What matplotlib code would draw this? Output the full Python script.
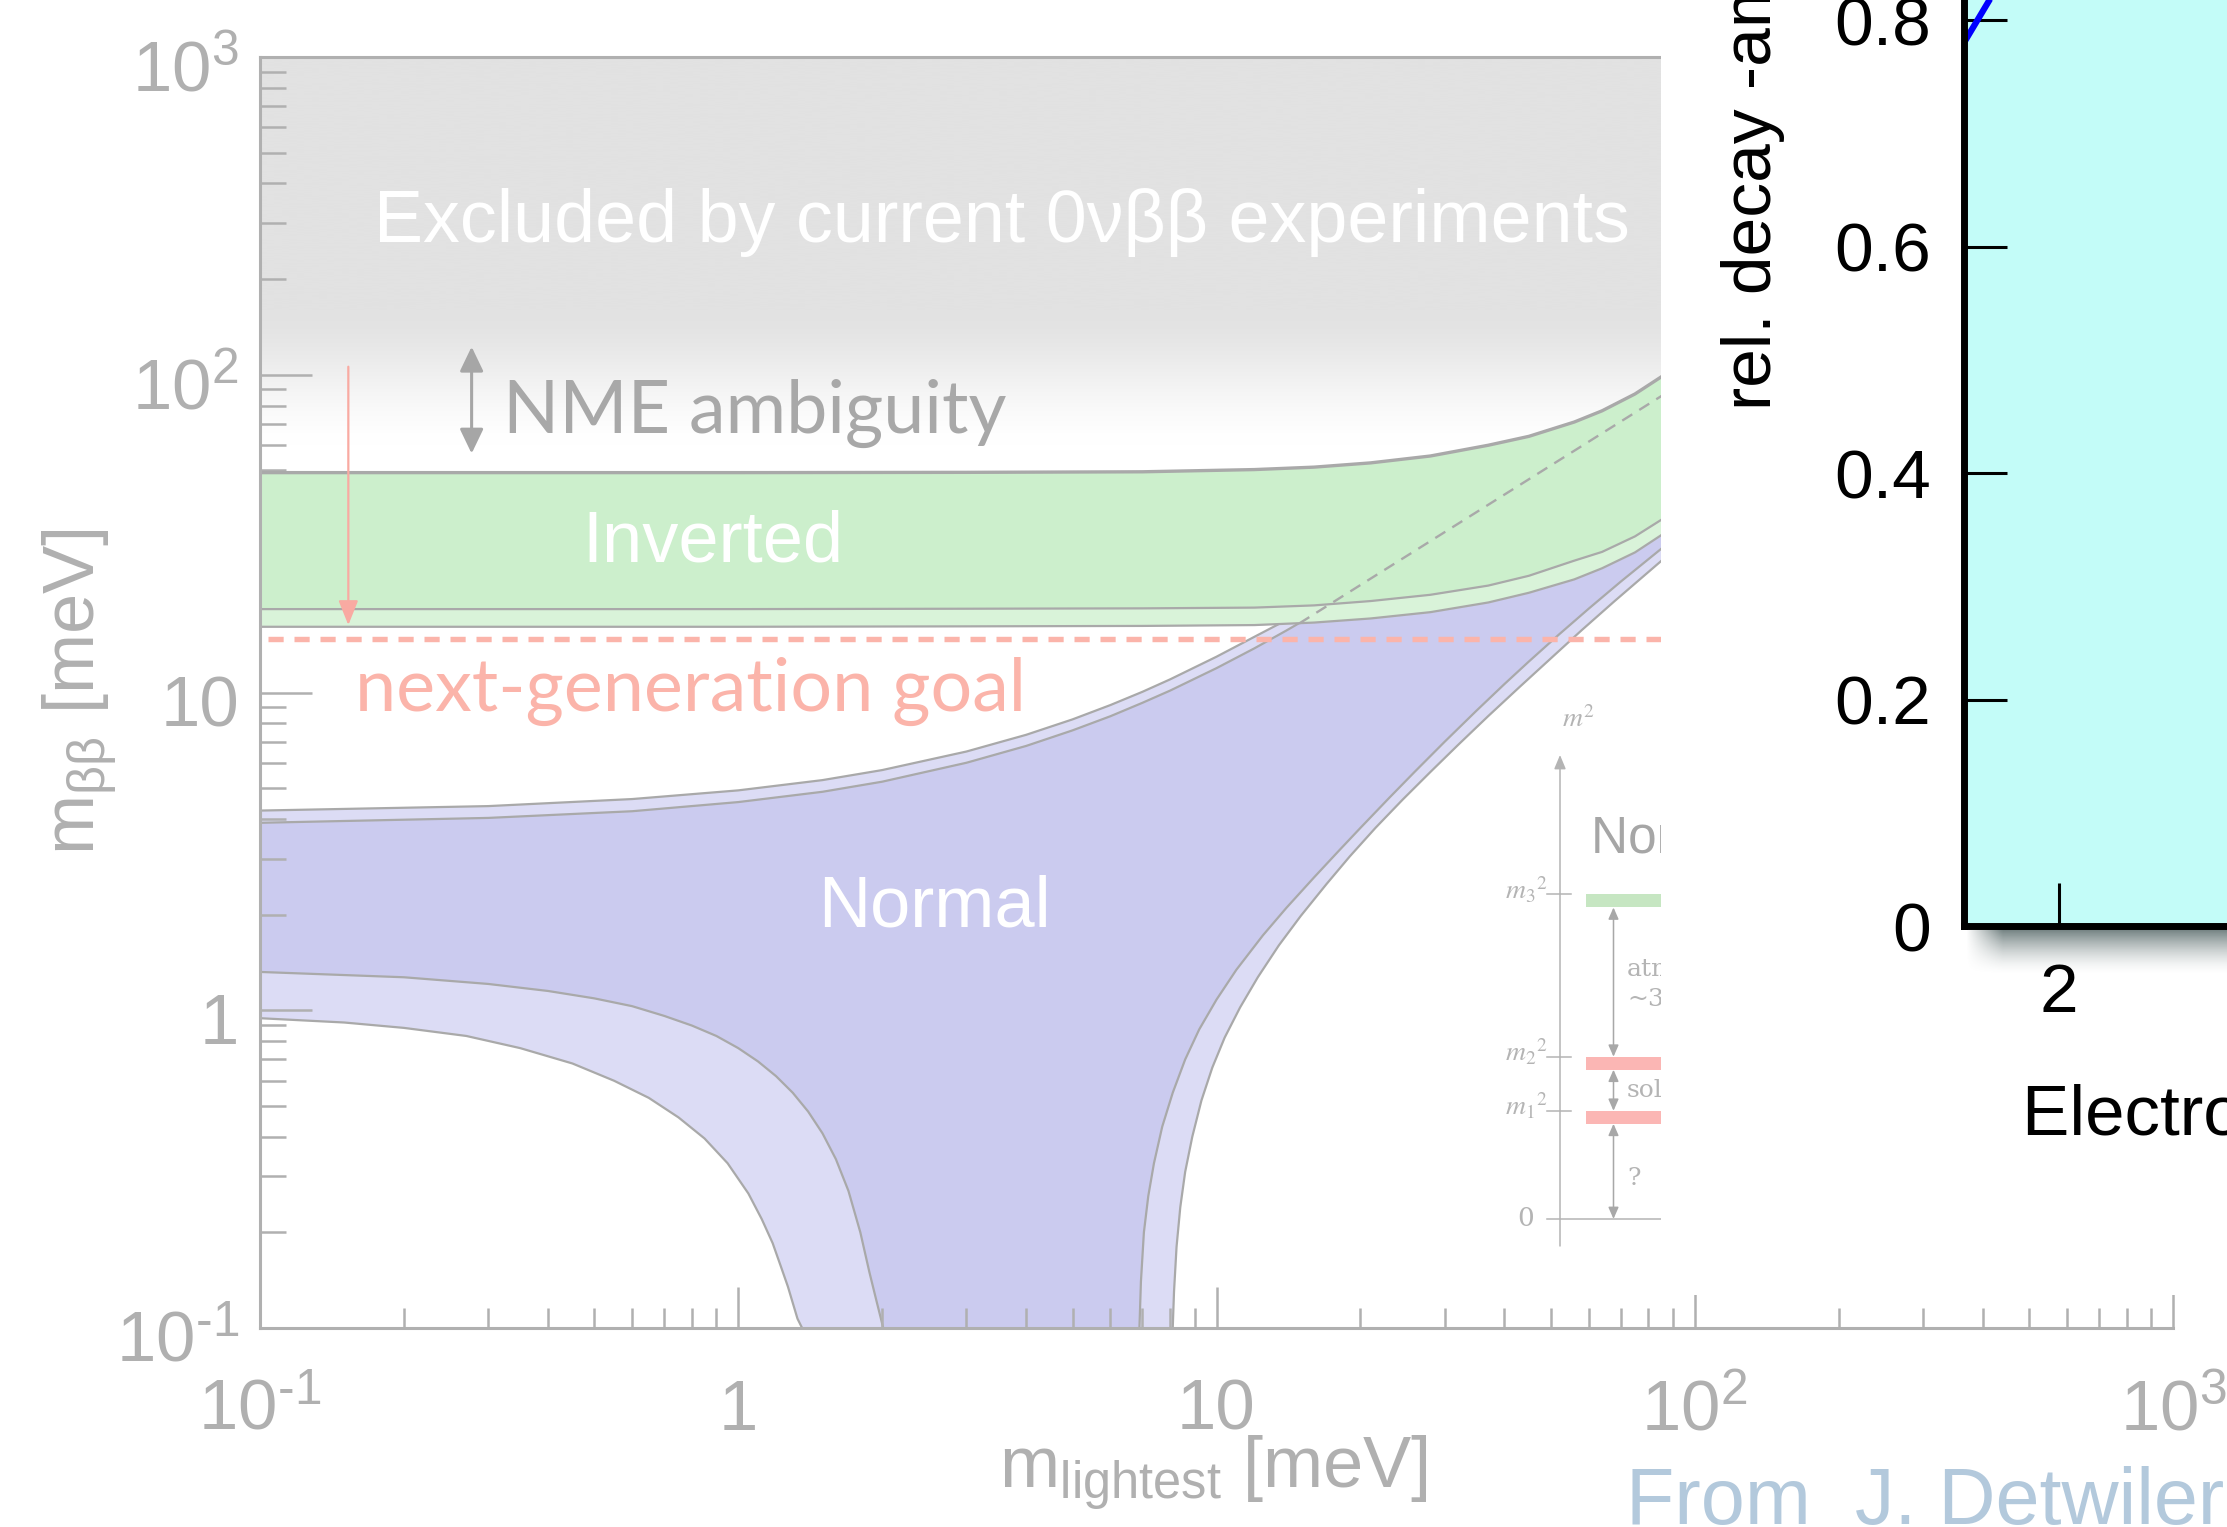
import matplotlib

matplotlib.use("Agg")
import matplotlib.pyplot as plt
import numpy as np
from matplotlib import font_manager
from matplotlib.colors import LinearSegmentedColormap
from matplotlib.ticker import LogLocator, NullFormatter
from matplotlib.transforms import offset_copy

# ---------------------------------------------------------------------------
# values (all in meV)
# ---------------------------------------------------------------------------
# inverted ordering (green band)
IO_X = [0.1, 1, 3, 7, 12, 16, 21, 28, 37, 45, 56, 64, 75, 86]
IO_UPPER = [49.2, 49.2, 49.3, 49.5, 50.3, 51.2, 52.8, 55.5, 60.0, 64.0, 71.0, 77.0, 87.0, 99.5]
IO_LOWER_BF = [18.3, 18.3, 18.35, 18.4, 18.5, 18.8, 19.4, 20.3, 21.7, 23.3, 26.0, 27.7, 31.0, 35.3]
IO_LOWER_3S = [16.1, 16.1, 16.15, 16.2, 16.3, 16.6, 17.1, 17.9, 19.2, 20.6, 22.7, 24.6, 27.6, 31.6]

# normal ordering (blue band) - upper edges
NO_UP_X = [0.1, 0.3, 0.6, 1, 1.5, 2, 3, 4, 5, 6, 7, 8, 10, 12, 14, 16, 20, 30, 50, 86]
NO_UPPER_3S = [4.25, 4.39, 4.62, 4.92, 5.3, 5.7, 6.52, 7.36, 8.23, 9.13, 10.05, 11.0,
               12.96, 14.97, 16.9, 18.9, 23.0, 33.0, 53.0, 89.0]
NO_UPPER_BF = [3.89, 4.03, 4.23, 4.52, 4.87, 5.24, 6.01, 6.79, 7.6, 8.42, 9.28, 10.14,
               11.93, 13.77, 15.67, 17.6, 21.5, 31.7, 51.0, 87.0]

# normal ordering - lower edge, left branch (falls to zero)
NO_LEFT_X_3S = [0.1, 0.15, 0.2, 0.27, 0.35, 0.45, 0.55, 0.65, 0.75, 0.85, 0.95,
                1.05, 1.12, 1.18, 1.23, 1.27, 1.30, 1.33, 1.36]
NO_LEFT_3S = [0.944, 0.915, 0.88, 0.83, 0.76, 0.68, 0.60, 0.53, 0.46, 0.395, 0.33,
              0.265, 0.22, 0.185, 0.155, 0.135, 0.12, 0.107, 0.1]
NO_LEFT_X_BF = [0.1, 0.2, 0.3, 0.4, 0.5, 0.6, 0.7, 0.8, 0.9, 1.0, 1.1, 1.2, 1.3,
                1.4, 1.5, 1.6, 1.7, 1.8, 1.88, 1.95, 2.01]
NO_LEFT_BF = [1.32, 1.27, 1.21, 1.15, 1.09, 1.03, 0.96, 0.895, 0.83, 0.76, 0.69,
              0.62, 0.55, 0.48, 0.41, 0.34, 0.27, 0.2, 0.15, 0.12, 0.1]

# normal ordering - lower edge, right branch (rises again)
NO_RIGHT_X_BF = [6.9, 6.95, 7.05, 7.2, 7.4, 7.7, 8.1, 8.6, 9.2, 10, 11, 12.5, 14, 16,
                 18, 20, 23, 26, 30, 35, 40, 45, 52, 60, 70, 86]
NO_RIGHT_BF = [0.1, 0.14, 0.2, 0.26, 0.33, 0.43, 0.55, 0.7, 0.87, 1.08, 1.34, 1.72,
               2.1, 2.62, 3.17, 3.75, 4.67, 5.64, 7.0, 8.78, 10.63, 12.52, 15.22,
               18.35, 22.32, 28.7]
NO_RIGHT_X_3S = [8.1, 8.15, 8.25, 8.4, 8.6, 8.9, 9.3, 9.8, 10.4, 11.2, 12.2, 13.5, 15,
                 17, 19, 21.5, 24.5, 28, 32, 37, 43, 50, 58, 68, 86]
NO_RIGHT_3S = [0.1, 0.13, 0.18, 0.24, 0.31, 0.4, 0.52, 0.66, 0.82, 1.02, 1.27, 1.6,
               1.98, 2.5, 3.05, 3.75, 4.6, 5.62, 6.84, 8.43, 10.4, 12.8, 15.7, 19.4, 26.3]

# quasi-degenerate continuation of the NO upper edge under the green band
DEGEN_X = [14.9, 86]
DEGEN_Y = [16.5, 86.5]

GOAL = 14.75  # next-generation sensitivity goal
NME_X, NME_LOW, NME_HIGH = 0.277, 56.5, 122.5
GOAL_ARROW_X, GOAL_ARROW_FROM, GOAL_ARROW_TO = 0.153, 106.0, 16.3

X_TICKS = [0.1, 1, 10, 100, 1000]
X_TICK_LABELS = ["$\\mathregular{10^{\u2010 1}}$", "1", "10",
                 r"$\mathregular{10^{2}}$", r"$\mathregular{10^{3}}$"]
Y_TICKS = X_TICKS
Y_TICK_LABELS = X_TICK_LABELS

# overlaid spectrum panel (only its corner is visible)
SPEC_YTICKS = [0, 0.2, 0.4, 0.6, 0.8]
SPEC_YLABELS = ["0", "0.2", "0.4", "0.6", "0.8"]
SPEC_XTICKS = [2]
SPEC_LINE_X = [1.5, 1.66]
SPEC_LINE_Y = [0.78, 0.825]

# level-scheme inset (normal ordering), m^2 in arbitrary units
LEVEL_VALUES = [1.0, 1.5, 3.0]
LEVEL_LABELS = [r"$m_1{}^2$", r"$m_2{}^2$", r"$m_3{}^2$"]
LEVEL_COLORS = ["#fbb6b4", "#fbb6b4", "#c6e6c2"]
GAP_TEXTS = [("?", 0.375), ("solar", 1.19), ("atmospheric", 2.31),
             (r"~3$\times$10$^{-3}$ eV$^2$", 2.03)]

# ---------------------------------------------------------------------------
AX_COLOR = "#b0b0b0"
LINE_COLOR = "#a9a9a9"
EXCL_GRAY = "#e2e2e2"
GREEN_LIGHT, GREEN_DARK = "#d9f3d9", "#ccefcc"
BLUE_LIGHT, BLUE_DARK = "#dcdcf5", "#cbcbef"
PINK = "#fbb4aa"

names = {f.name for f in font_manager.fontManager.ttflist}
HUMANIST = "Lato" if "Lato" in names else "DejaVu Sans"

plt.rcParams["font.family"] = ["Liberation Sans", "DejaVu Sans"]
plt.rcParams["mathtext.fontset"] = "custom"
plt.rcParams["mathtext.rm"] = "Liberation Sans"
plt.rcParams["mathtext.it"] = "Liberation Sans:italic"

FIG_W, FIG_H = 2227, 1527
fig = plt.figure(figsize=(FIG_W / 100, FIG_H / 100), dpi=100)


def box(x0, y0, x1, y1):
    """Pixel box (origin top-left) -> figure-fraction rect."""
    return [x0 / FIG_W, 1 - y1 / FIG_H, (x1 - x0) / FIG_W, (y1 - y0) / FIG_H]


# ---------------------------------------------------------------------------
# main m_bb vs m_lightest plot
# ---------------------------------------------------------------------------
ax = fig.add_axes(box(260, 57, 2173, 1328))
ax.set_xscale("log")
ax.set_yscale("log")
ax.set_xlim(0.1, 1000)
ax.set_ylim(0.1, 1000)
ax.set_autoscale_on(False)

# excluded region: flat grey fading to white towards the IO band
f_white, f_gray = 0.691, 0.805
fy = np.linspace(f_white, 1, 512)
shade = np.clip((fy - f_white) / (f_gray - f_white), 0, 1)
shade = shade * shade * (3 - 2 * shade)
excl_cmap = LinearSegmentedColormap.from_list("excl", ["white", EXCL_GRAY])
ax.imshow(shade[:, None], cmap=excl_cmap, vmin=0, vmax=1, aspect="auto",
          origin="lower", extent=(0, 1, f_white, 1), transform=ax.transAxes,
          interpolation="bilinear", zorder=0)

# normal ordering band
outer_x = NO_UP_X + NO_RIGHT_X_3S[::-1] + NO_LEFT_X_3S[::-1]
outer_y = NO_UPPER_3S + NO_RIGHT_3S[::-1] + NO_LEFT_3S[::-1]
inner_x = NO_UP_X + NO_RIGHT_X_BF[::-1] + NO_LEFT_X_BF[::-1]
inner_y = NO_UPPER_BF + NO_RIGHT_BF[::-1] + NO_LEFT_BF[::-1]
ax.fill(outer_x, outer_y, color=BLUE_LIGHT, lw=0, zorder=1)
ax.fill(inner_x, inner_y, color=BLUE_DARK, lw=0, zorder=1.1)
for xs, ys in [(NO_UP_X, NO_UPPER_3S), (NO_UP_X, NO_UPPER_BF),
               (NO_LEFT_X_3S, NO_LEFT_3S), (NO_LEFT_X_BF, NO_LEFT_BF),
               (NO_RIGHT_X_3S, NO_RIGHT_3S), (NO_RIGHT_X_BF, NO_RIGHT_BF)]:
    ax.plot(xs, ys, color=LINE_COLOR, lw=1.6, zorder=1.2, solid_joinstyle="round")

# inverted ordering band
ax.fill_between(IO_X, IO_LOWER_3S, IO_UPPER, color=GREEN_LIGHT, lw=0, zorder=2)
ax.fill_between(IO_X, IO_LOWER_BF, IO_UPPER, color=GREEN_DARK, lw=0, zorder=2.1)
for ys, lw in [(IO_UPPER, 2.4), (IO_LOWER_BF, 1.6), (IO_LOWER_3S, 1.6)]:
    ax.plot(IO_X, ys, color=LINE_COLOR, lw=lw, zorder=2.2)
ax.plot(DEGEN_X, DEGEN_Y, color=LINE_COLOR, lw=1.7, ls=(0, (5, 3.5)), zorder=2.3)

# sensitivity goal
ax.axhline(GOAL, xmin=0.004, color=PINK, lw=3.9, ls=(0, (2.8, 2.0)), zorder=3)
ax.annotate("", xy=(GOAL_ARROW_X, GOAL_ARROW_TO), xytext=(GOAL_ARROW_X, GOAL_ARROW_FROM),
            arrowprops=dict(arrowstyle="-|>,head_length=0.75,head_width=0.3",
                            mutation_scale=20, lw=1.6, color="#f9aaa2",
                            shrinkA=0, shrinkB=0), zorder=3.1)
ax.annotate("", xy=(NME_X, NME_HIGH), xytext=(NME_X, NME_LOW),
            arrowprops=dict(arrowstyle="<|-|>,head_length=0.75,head_width=0.36",
                            mutation_scale=20, lw=2.2, color="#a6a6a6",
                            shrinkA=0, shrinkB=0), zorder=3.1)

ax.text(3.56, 262, "Excluded by current 0νββ experiments", color="white",
        fontsize=53, ha="center", va="baseline", zorder=4)
ax.text(0.322, 65.8, "NME ambiguity", color="#a8a8a8", fontsize=53,
        family=HUMANIST, ha="left", va="baseline", zorder=4)
ax.text(0.885, 25.8, "Inverted", color="white", fontsize=52,
        ha="center", va="baseline", zorder=4)
ax.text(2.575, 1.84, "Normal", color="white", fontsize=52,
        ha="center", va="baseline", zorder=4)
ax.text(0.158, 8.77, "next-generation goal", color=PINK, fontsize=53,
        family=HUMANIST, ha="left", va="baseline", zorder=4)

# axes cosmetics
for side in ("left", "bottom", "top"):
    ax.spines[side].set_color(AX_COLOR)
    ax.spines[side].set_linewidth(2.2)
    ax.spines[side].set_zorder(5)
ax.spines["right"].set_visible(False)
for axis in (ax.xaxis, ax.yaxis):
    axis.set_major_locator(LogLocator(base=10, numticks=10))
    axis.set_minor_locator(LogLocator(base=10, subs=np.arange(2, 10), numticks=40))
    axis.set_minor_formatter(NullFormatter())
ax.tick_params(which="both", direction="in", color=AX_COLOR, width=1.8,
               labelbottom=False, labelleft=False, top=False, right=False)
ax.tick_params(axis="y", which="major", length=37.4)
ax.tick_params(axis="y", which="minor", length=19)
ax.tick_params(axis="x", which="major", length=29.5)
ax.tick_params(axis="x", which="minor", length=14.4)

xt = offset_copy(ax.get_xaxis_transform(), fig=fig, y=-102, units="dots")
for v, lab in zip(X_TICKS, X_TICK_LABELS):
    ax.text(v, 0, lab, transform=xt, ha="center", va="baseline", fontsize=51,
            color=AX_COLOR, clip_on=False)
yt = offset_copy(ax.get_yaxis_transform(), fig=fig, x=-21, y=-34, units="dots")
for v, lab in zip(Y_TICKS, Y_TICK_LABELS):
    ax.text(0, v, lab, transform=yt, ha="right", va="baseline", fontsize=51,
            color=AX_COLOR, clip_on=False)

fig.text(1213 / FIG_W, 1 - 1488 / FIG_H, r"$\mathregular{m_{lightest}}$ [meV]",
         fontsize=52, color=AX_COLOR, ha="center", va="baseline", zorder=10)
fig.text(80 / FIG_W, 1 - 692 / FIG_H, r"$\mathregular{m_{ββ}}$ [meV]",
         fontsize=52, color=AX_COLOR, ha="center", va="center", rotation=90, zorder=10)

# ---------------------------------------------------------------------------
# level-scheme inset
# ---------------------------------------------------------------------------
ax3 = fig.add_axes(box(1505, 689, 1661, 1246), zorder=3)
ax3.set_facecolor("#f8f8f8")
ax3.set_xlim(0, 1.56)
ax3.set_ylim(-0.25, 4.9)
ax3.axis("off")
ax3.patch.set_visible(True)
lvl_c = "#b4b4b4"
ax3.annotate("", xy=(0.55, 4.29), xytext=(0.55, -0.25),
             arrowprops=dict(arrowstyle="-|>,head_length=0.6,head_width=0.25",
                             mutation_scale=14, lw=1.1, color=lvl_c, shrinkA=0, shrinkB=0))
ax3.plot([0.42, 1.56], [0, 0], color=lvl_c, lw=1.1)
ax3.text(0.21, 0, "0", fontsize=19, color=lvl_c, family="DejaVu Serif",
         ha="center", va="center")
ax3.text(0.57, 4.62, r"$m^2$", fontsize=20, color=lvl_c, ha="left", va="center",
         math_fontfamily="stix")
bar_h = 0.12
for val, lab, col in zip(LEVEL_VALUES, LEVEL_LABELS, LEVEL_COLORS):
    ax3.plot([0.42, 0.66], [val, val], color=lvl_c, lw=1.1)
    ax3.text(0.43, val - 0.1, lab, fontsize=20, color=lvl_c, ha="right", va="bottom",
             math_fontfamily="stix")
    ax3.fill_between([0.81, 1.6], val - bar_h, val, color=col, lw=0)
spans = [(0.0, LEVEL_VALUES[0] - bar_h)] + [
    (LEVEL_VALUES[i], LEVEL_VALUES[i + 1] - bar_h) for i in range(len(LEVEL_VALUES) - 1)]
for lo, hi in spans:
    ax3.annotate("", xy=(1.085, lo), xytext=(1.085, hi),
                 arrowprops=dict(arrowstyle="<|-|>,head_length=0.5,head_width=0.22",
                                 mutation_scale=14, lw=1.1, color="#a8a8a8",
                                 shrinkA=0, shrinkB=0))
for txt, yv in GAP_TEXTS:
    ax3.text(1.22, yv, txt, fontsize=18, color=lvl_c, ha="left", va="center",
             family="DejaVu Serif", math_fontfamily="stix", clip_on=True)
ax3.text(0.86, 3.51, "Normal ordering", fontsize=37, color="#a6a6a6",
         ha="left", va="center", clip_on=True)

# ---------------------------------------------------------------------------
# overlaid spectrum panel on the right
# ---------------------------------------------------------------------------
ax_w = fig.add_axes(box(1661, 0, FIG_W, 1295), zorder=4)
ax_w.set_facecolor("white")
ax_w.set_xticks([])
ax_w.set_yticks([])
for s in ax_w.spines.values():
    s.set_visible(False)

# drop shadow under the panel's bottom axis
ax_sh = fig.add_axes(box(1966, 929, FIG_W, 975), zorder=5)
ax_sh.axis("off")
tv = np.linspace(0, 1, 64)[:, None]
th = np.linspace(0, 1, 256)[None, :]
alpha = (1 - tv) ** 1.6 * 0.8 * np.clip(th / 0.14, 0, 1)
rgba = np.zeros((64, 256, 4))
rgba[..., 0], rgba[..., 1], rgba[..., 2] = 0.28, 0.36, 0.36
rgba[..., 3] = alpha
ax_sh.imshow(rgba, aspect="auto", extent=(0, 1, 0, 1), interpolation="bilinear")

ax2 = fig.add_axes(box(1964, 0, FIG_W, 926), zorder=6)
ax2.set_facecolor("#c3fcf8")
ax2.set_xlim(1.5, 2.884)
ax2.set_ylim(0, 0.8177)
ax2.plot(SPEC_LINE_X, SPEC_LINE_Y, color="#0000ff", lw=4.5, solid_capstyle="butt")
ax2.spines["top"].set_visible(False)
ax2.spines["right"].set_visible(False)
for side in ("left", "bottom"):
    ax2.spines[side].set_linewidth(5)
    ax2.spines[side].set_color("black")
ax2.set_yticks(SPEC_YTICKS)
ax2.set_yticklabels(SPEC_YLABELS)
ax2.set_xticks(SPEC_XTICKS)
ax2.set_xticklabels([str(v) for v in SPEC_XTICKS])
ax2.tick_params(direction="in", length=31, width=2.2, color="black",
                labelsize=50, labelcolor="black")
ax2.tick_params(axis="y", pad=24)
ax2.tick_params(axis="x", pad=26)
fig.text(1753 / FIG_W, 1 - 410 / FIG_H, "rel. decay -amplitude", rotation=90,
         fontsize=50, color="black", ha="center", va="bottom", zorder=10)
fig.text(2022 / FIG_W, 1 - 1135 / FIG_H, "Electron energy [keV]", fontsize=51,
         color="black", ha="left", va="baseline", zorder=10)

fig.text(1626 / FIG_W, 1 - 1524 / FIG_H, "From  J. Detwiler, U. Washington",
         fontsize=57, color="#b3c9dc", ha="left", va="baseline", zorder=10)

fig.savefig("out.png", dpi=100)
